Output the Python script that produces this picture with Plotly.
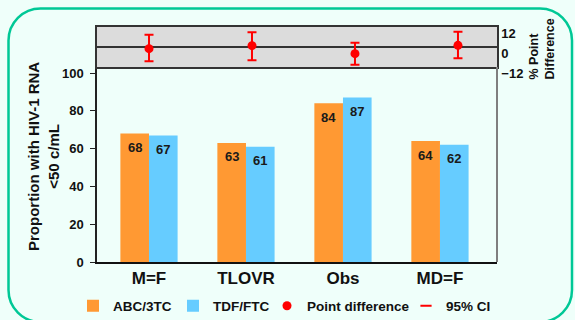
import plotly.graph_objects as go

# ---------------- data ----------------
categories = ["M=F", "TLOVR", "Obs", "MD=F"]
abc_3tc = [68, 63, 84, 64]
tdf_ftc = [67, 61, 87, 62]
point_diff = [-1.0, 0.8, -4.0, 1.0]
ci_upper = [7.4, 8.8, 2.6, 9.2]
ci_lower = [-8.6, -8.0, -10.6, -6.8]
y_ticks = [0, 20, 40, 60, 80, 100]
diff_ticks = [-12, 0, 12]
series_names = ["ABC/3TC", "TDF/FTC", "Point difference", "95% CI"]

# ---------------- style ----------------
W, H = 575, 320
ML, MR, MT, MB = 97, 78, 27, 58
PW, PH = W - ML - MR, H - MT - MB
ORANGE, BLUE, RED = "#FF9933", "#66CCFF", "#FF0000"
BG = "#EFFFFA"
FONT = "Arial, Liberation Sans, sans-serif"
BARGAP = 0.41
split = (262 - 67) / PH  # domain split between panels


def px(x):
    return (x - ML) / PW


def py(y):
    return (H - MB - y) / PH


fig = go.Figure()

fig.add_trace(go.Bar(x=categories, y=abc_3tc, name=series_names[0],
                     marker=dict(color=ORANGE, line=dict(width=0)),
                     legend="legend"))
fig.add_trace(go.Bar(x=categories, y=tdf_ftc, name=series_names[1],
                     marker=dict(color=BLUE, line=dict(width=0)),
                     legend="legend2"))

fig.add_trace(go.Scatter(
    x=categories, y=point_diff, mode="markers", name=series_names[2],
    xaxis="x2", yaxis="y2",
    marker=dict(color=RED, size=9),
    error_y=dict(type="data", symmetric=False,
                 array=[u - p for u, p in zip(ci_upper, point_diff)],
                 arrayminus=[p - l for p, l in zip(point_diff, ci_lower)],
                 color=RED, thickness=2, width=4.5),
    legend="legend3"))
fig.add_trace(go.Scatter(
    x=[None], y=[None], mode="markers", name=series_names[3],
    xaxis="x2", yaxis="y2",
    marker=dict(symbol="line-ew-open", size=8, color=RED,
                line=dict(color=RED, width=2)),
    legend="legend4"))

# bar value labels
half = (1 - BARGAP) / 4
annotations = []
for i, (a, b) in enumerate(zip(abc_3tc, tdf_ftc)):
    for off, v in ((-half, a), (half, b)):
        annotations.append(dict(x=i + off, y=v, xref="x", yref="y",
                                text=str(v), showarrow=False, yshift=-14,
                                font=dict(family=FONT, size=13, color="#1a1a1a",
                                          weight="bold")))

# axis titles
annotations.append(dict(x=px(43), y=py(157), xref="paper", yref="paper",
                        xanchor="center", yanchor="middle",
                        text="Proportion with HIV-1 RNA<br><50 c/mL",
                        textangle=-90, showarrow=False,
                        font=dict(family=FONT, size=15, color="#111", weight="bold")))
annotations.append(dict(x=px(541), y=py(82), xref="paper", yref="paper",
                        xanchor="center", yanchor="bottom", align="left",
                        text="% Point<br>Difference", textangle=-90,
                        showarrow=False,
                        font=dict(family=FONT, size=12.5, color="#111", weight="bold")))

# rounded frame
x0, x1, y0, y1, r = 8.5, 572, 8.5, 322, 32
k = 0.5523 * r
pts = [
    ("M", [(x0 + r, y0)]),
    ("L", [(x1 - r, y0)]),
    ("C", [(x1 - r + k, y0), (x1, y0 + r - k), (x1, y0 + r)]),
    ("L", [(x1, y1 - r)]),
    ("C", [(x1, y1 - r + k), (x1 - r + k, y1), (x1 - r, y1)]),
    ("L", [(x0 + r, y1)]),
    ("C", [(x0 + r - k, y1), (x0, y1 - r + k), (x0, y1 - r)]),
    ("L", [(x0, y0 + r)]),
    ("C", [(x0, y0 + r - k), (x0 + r - k, y0), (x0 + r, y0)]),
]
path = " ".join(c + " " + " ".join(f"{px(a):.5f},{py(b):.5f}" for a, b in p)
                for c, p in pts) + " Z"

shapes = [
    dict(type="path", path=path, xref="paper", yref="paper", layer="below",
         line=dict(color="#00C896", width=2.5), fillcolor=BG),
    dict(type="rect", xref="x2 domain", yref="y2 domain", x0=0, x1=1, y0=0, y1=1,
         layer="below", fillcolor="#DCDCDC", line=dict(width=0)),
    dict(type="line", xref="x domain", yref="y domain", x0=1, x1=1, y0=0, y1=1,
         line=dict(color="#7F7F7F", width=2)),
]

legend_common = dict(orientation="h", yanchor="middle", xanchor="left",
                     y=py(306), bgcolor="rgba(0,0,0,0)", itemwidth=30,
                     font=dict(family=FONT, size=13.5, color="#111", weight="bold"))
leg_x = [73, 173, 267, 406]

fig.update_layout(
    width=W, height=H,
    margin=dict(l=ML, r=MR, t=MT, b=MB, pad=0, autoexpand=False),
    paper_bgcolor=BG, plot_bgcolor=BG,
    barmode="group", bargap=BARGAP, bargroupgap=0,
    showlegend=True,
    legend=dict(x=px(leg_x[0]), **legend_common),
    legend2=dict(x=px(leg_x[1]), **legend_common),
    legend3=dict(x=px(leg_x[2]), **legend_common),
    legend4=dict(x=px(leg_x[3]), **legend_common),
    xaxis=dict(domain=[0, 1], range=[-0.536, 3.588], showgrid=False,
               showline=True, linecolor="#111", linewidth=1.5, ticks="",
               tickfont=dict(family=FONT, size=17, color="#111", weight="bold")),
    yaxis=dict(domain=[0, split], range=[0, 103.2], tickvals=y_ticks,
               showgrid=False, zeroline=False, showline=True, linecolor="#222",
               linewidth=1.5, ticks="outside", ticklen=5, tickcolor="#222",
               tickwidth=1.2, ticklabelstandoff=4,
               tickfont=dict(family=FONT, size=13, color="#111", weight="bold")),
    xaxis2=dict(domain=[0, 1], anchor="y2", range=[-0.505, 3.379],
                showticklabels=False, showgrid=False, ticks="",
                showline=True, mirror=True, linecolor="#333", linewidth=1.5),
    yaxis2=dict(domain=[split, 1], anchor="x2", range=[-12, 12], side="right",
                tickvals=diff_ticks, showgrid=False, zeroline=True,
                zerolinecolor="#333", zerolinewidth=1.5,
                showline=True, mirror=True, linecolor="#333", linewidth=1.5,
                ticks="", ticklabelshift=6,
                tickfont=dict(family=FONT, size=13, color="#111", weight="bold")),
    annotations=annotations,
    shapes=shapes,
)

fig.write_html(
    "out.html",
    config={"displayModeBar": False},
    post_script="document.body.style.margin='0';"
                "document.body.style.background='" + BG + "';",
)
